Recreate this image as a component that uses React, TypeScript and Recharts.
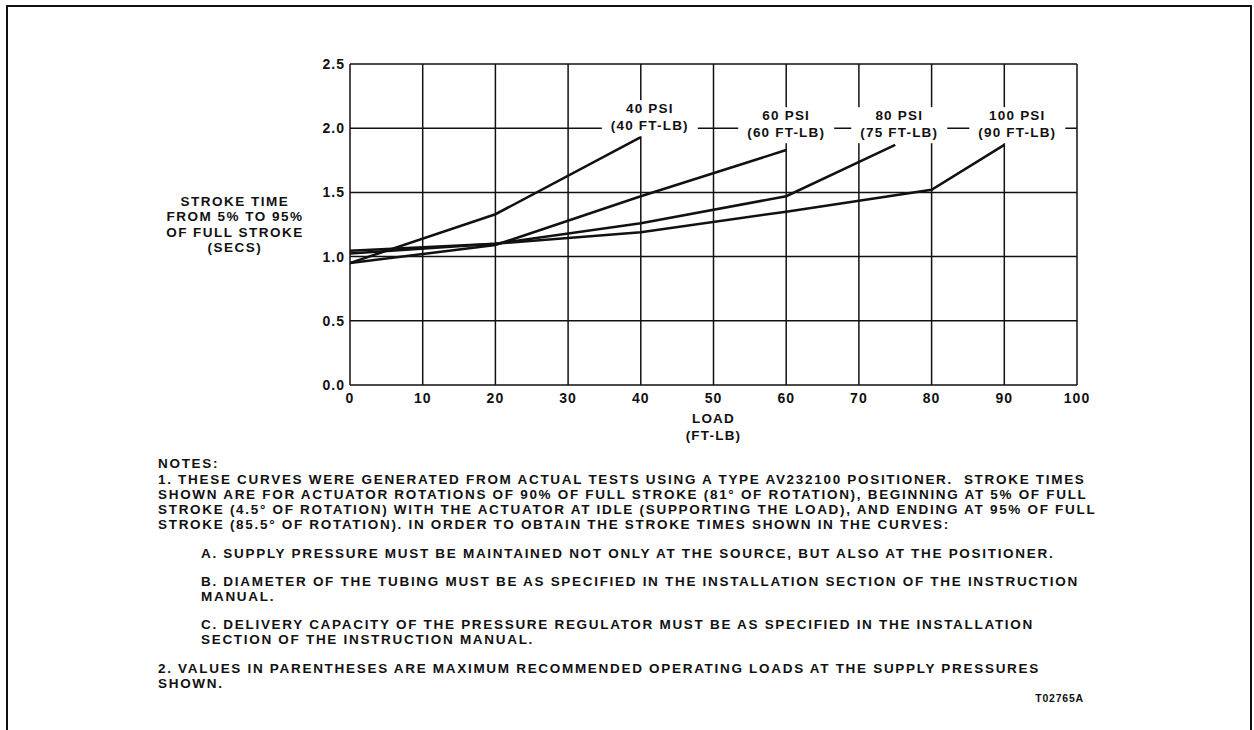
import React from "react"
import { LineChart, Line, XAxis, YAxis, CartesianGrid, ReferenceDot } from "recharts"

// load (ft-lb) / stroke time (s), one pair per supply pressure
const psi40Load = [0, 20, 40]
const psi40Time = [0.95, 1.33, 1.93]
const psi60Load = [0, 20, 40, 60]
const psi60Time = [0.95, 1.09, 1.47, 1.83]
const psi80Load = [0, 20, 40, 60, 75]
const psi80Time = [1.025, 1.1, 1.26, 1.47, 1.87]
const psi100Load = [0, 20, 40, 60, 80, 90]
const psi100Time = [1.045, 1.1, 1.19, 1.35, 1.52, 1.87]

const pressureLabels = ["40 PSI", "60 PSI", "80 PSI", "100 PSI"]
const maxLoadLabels = ["(40 FT-LB)", "(60 FT-LB)", "(75 FT-LB)", "(90 FT-LB)"]

const xTicks = [0, 10, 20, 30, 40, 50, 60, 70, 80, 90, 100]
const yTicks = [0, 0.5, 1.0, 1.5, 2.0, 2.5]

const yTitle = ["STROKE TIME", "FROM 5% TO 95%", "OF FULL STROKE", "(SECS)"]
const xTitle = ["LOAD", "(FT-LB)"]

const notes = [
  "NOTES:",
  "1. THESE CURVES WERE GENERATED FROM ACTUAL TESTS USING A TYPE AV232100 POSITIONER.  STROKE TIMES",
  "SHOWN ARE FOR ACTUATOR ROTATIONS OF 90% OF FULL STROKE (81° OF ROTATION), BEGINNING AT 5% OF FULL",
  "STROKE (4.5° OF ROTATION) WITH THE ACTUATOR AT IDLE (SUPPORTING THE LOAD), AND ENDING AT 95% OF FULL",
  "STROKE (85.5° OF ROTATION). IN ORDER TO OBTAIN THE STROKE TIMES SHOWN IN THE CURVES:",
  "A. SUPPLY PRESSURE MUST BE MAINTAINED NOT ONLY AT THE SOURCE, BUT ALSO AT THE POSITIONER.",
  "B. DIAMETER OF THE TUBING MUST BE AS SPECIFIED IN THE INSTALLATION SECTION OF THE INSTRUCTION",
  "MANUAL.",
  "C. DELIVERY CAPACITY OF THE PRESSURE REGULATOR MUST BE AS SPECIFIED IN THE INSTALLATION",
  "SECTION OF THE INSTRUCTION MANUAL.",
  "2. VALUES IN PARENTHESES ARE MAXIMUM RECOMMENDED OPERATING LOADS AT THE SUPPLY PRESSURES",
  "SHOWN.",
]
const figureId = "T02765A"

// layout for the note lines: [center y, indented]
const noteRows: [number, boolean][] = [
  [464, false], [480, false], [495, false], [510, false], [525, false],
  [554, true], [582, true], [597, true], [625, true], [640, true],
  [669, false], [684, false],
]

const FONT = "'Liberation Sans', Arial, Helvetica, sans-serif"
const INK = "#111"

const toRows = (loads: number[], times: number[]) => loads.map((load, i) => ({ load, time: times[i] }))

const series = [
  toRows(psi40Load, psi40Time),
  toRows(psi60Load, psi60Time),
  toRows(psi80Load, psi80Time),
  toRows(psi100Load, psi100Time),
]

// pixel nudges for the curve labels (the 40 PSI one sits higher)
const labelNudge = [
  { dx: 9, dy: -20 },
  { dx: 0, dy: -13 },
  { dx: 4, dy: -13 },
  { dx: 13, dy: -13 },
]

function CurveLabel(props: any) {
  const { cx, cy, idx } = props
  const { dx, dy } = labelNudge[idx]
  const x = cx + dx
  const w = maxLoadLabels[idx].length * 8.8
  const common = {
    textAnchor: "middle" as const,
    dominantBaseline: "central" as const,
    fontFamily: FONT,
    fontWeight: "bold",
    fontSize: 13.5,
    letterSpacing: 1.2,
    fill: INK,
  }
  return (
    <g>
      <rect x={x - w / 2 - 4} y={cy + dy - 8} width={w + 8} height={36} fill="#fff" />
      <text x={x} y={cy + dy} {...common}>
        {pressureLabels[idx]}
      </text>
      <text x={x} y={cy + dy + 17} {...common}>
        {maxLoadLabels[idx]}
      </text>
    </g>
  )
}

function YTitle(props: any) {
  const { viewBox } = props
  const cx = viewBox.x + 235
  const top = 201
  return (
    <text textAnchor="middle" fontFamily={FONT} fontWeight="bold" fontSize={13.5} letterSpacing={1.5} fill={INK}>
      {yTitle.map((t, i) => (
        <tspan key={t} x={cx} y={top + i * 15.5} dominantBaseline="central">
          {t}
        </tspan>
      ))}
    </text>
  )
}

function XTitle(props: any) {
  const { viewBox } = props
  const cx = viewBox.x + viewBox.width / 2
  return (
    <text textAnchor="middle" fontFamily={FONT} fontWeight="bold" fontSize={13.5} letterSpacing={1.2} fill={INK}>
      {xTitle.map((t, i) => (
        <tspan key={t} x={cx} y={418 + i * 17} dominantBaseline="central">
          {t}
        </tspan>
      ))}
    </text>
  )
}

const tickStyle = { fontFamily: FONT, fontWeight: "bold", fontSize: 14, fill: INK, letterSpacing: 1 } as any

export default function App() {
  return (
    <div
      style={{
        position: "fixed",
        left: 0,
        top: 0,
        width: 1254,
        height: 730,
        overflow: "hidden",
        background: "#fff",
        fontFamily: FONT,
        color: INK,
      }}
    >
      <div
        style={{
          position: "absolute",
          left: 6,
          top: 5,
          width: 1242,
          height: 800,
          border: `2px solid ${INK}`,
        }}
      />
      <div style={{ position: "absolute", left: 0, top: 0 }}>
        <LineChart
          width={1254}
          height={460}
          margin={{ top: 64, right: 177, left: 0, bottom: 0 }}
        >
          <CartesianGrid stroke={INK} strokeWidth={1.5} horizontalValues={yTicks} verticalValues={xTicks} />
          <XAxis
            type="number"
            dataKey="load"
            domain={[0, 100]}
            ticks={xTicks}
            interval={0}
            allowDataOverflow
            height={75}
            tickLine={false}
            axisLine={false}
            tick={tickStyle}
            label={{ content: <XTitle /> }}
          />
          <YAxis
            type="number"
            dataKey="time"
            domain={[0, 2.5]}
            ticks={yTicks}
            interval={0}
            width={350}
            tickLine={false}
            axisLine={false}
            tickSize={3}
            tickMargin={2}
            tick={tickStyle}
            tickFormatter={(v: number) => v.toFixed(1)}
            label={{ content: <YTitle /> }}
          />
          {series.map((rows, i) => (
            <Line
              key={pressureLabels[i]}
              data={rows}
              dataKey="time"
              type="linear"
              stroke={INK}
              strokeWidth={2.5}
              dot={false}
              activeDot={false}
              isAnimationActive={false}
            />
          ))}
          {series.map((rows, i) => (
            <ReferenceDot
              key={maxLoadLabels[i]}
              x={rows[rows.length - 1].load}
              y={2.0}
              r={0}
              ifOverflow="visible"
              shape={(p: any) => <CurveLabel {...p} idx={i} />}
            />
          ))}
        </LineChart>
      </div>
      {notes.map((line, i) => (
        <div
          key={i}
          style={{
            position: "absolute",
            left: noteRows[i][1] ? 201 : 158,
            top: noteRows[i][0] - 8,
            height: 16,
            lineHeight: "16px",
            whiteSpace: "pre",
            fontSize: 13.5,
            fontWeight: "bold",
            letterSpacing: 1.7,
          }}
        >
          {line}
        </div>
      ))}
      <div
        style={{
          position: "absolute",
          right: 1254 - 1084,
          top: 698 - 7,
          lineHeight: "14px",
          fontSize: 10.5,
          fontWeight: "bold",
          letterSpacing: 0.8,
        }}
      >
        {figureId}
      </div>
    </div>
  )
}
